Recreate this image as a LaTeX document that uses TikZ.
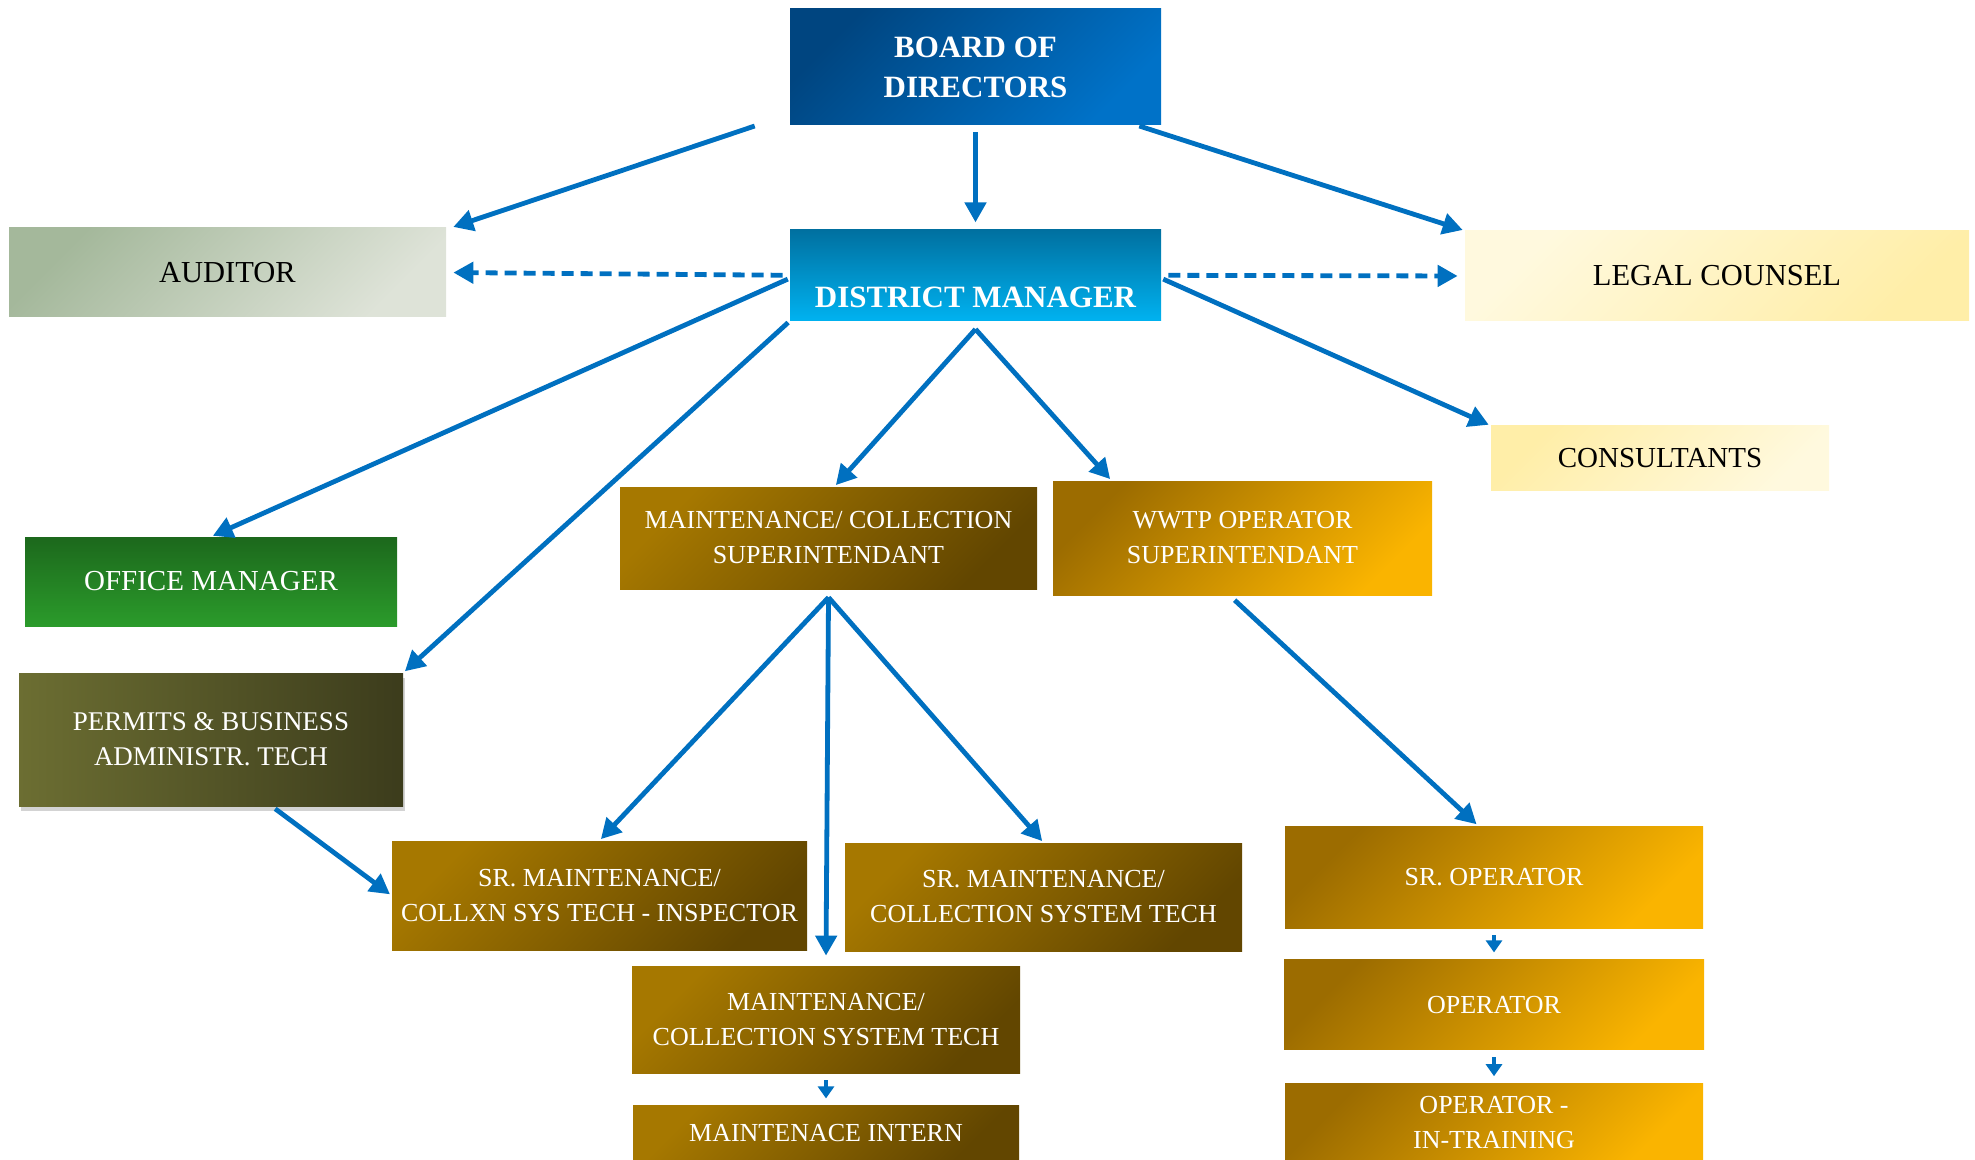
\documentclass[tikz,border=0pt]{standalone}
\usepackage{fontspec}
\setmainfont{Liberation Serif}
\usepackage{tikz}
\usetikzlibrary{arrows.meta, positioning, shadows}
\definecolor{arrowblue}{RGB}{0,112,192}
\definecolor{boarddark}{RGB}{0,69,128}
\definecolor{boardlight}{RGB}{0,114,200}
\definecolor{dmdark}{RGB}{0,112,160}
\definecolor{dmlight}{RGB}{0,178,240}
\definecolor{auditdark}{RGB}{164,184,155}
\definecolor{auditlight}{RGB}{222,227,216}
\definecolor{legallight}{RGB}{255,249,222}
\definecolor{legaldark}{RGB}{255,238,168}
\definecolor{officedark}{RGB}{28,104,28}
\definecolor{officelight}{RGB}{43,155,43}
\definecolor{permitlight}{RGB}{108,110,50}
\definecolor{permitdark}{RGB}{60,60,28}
\definecolor{maintlight}{RGB}{166,120,0}
\definecolor{maintdark}{RGB}{98,70,0}
\definecolor{opdark}{RGB}{156,108,0}
\definecolor{oplight}{RGB}{250,180,0}

\begin{document}
\begin{tikzpicture}[
        x=0.5pt, y=-0.5pt,
        box/.style={rectangle, inner sep=2pt, align=center, text=white, font=\fontsize{13}{17.5}\selectfont},
        topbox/.style={box, font=\bfseries\fontsize{15.5}{20}\selectfont},
        sidebox/.style={box, text=black, font=\fontsize{15.25}{19}\selectfont},
        maintbox/.style={box, top color=maintlight, bottom color=maintdark, shading angle=45},
        opbox/.style={box, top color=opdark, bottom color=oplight, shading angle=45},
        arrow/.style={-{Triangle[length=10pt,width=10.5pt]}, line width=2.4pt, draw=arrowblue, shorten >=1pt, shorten <=1pt},
        dasharrow/.style={arrow, dash pattern=on 6pt off 3.5pt, shorten <=3.5pt, shorten >=3.5pt},
        smallarrow/.style={-{Triangle[length=6pt,width=8pt]}, line width=1.8pt, draw=arrowblue, shorten >=3.5pt, shorten <=3.5pt}
    ]
    \useasboundingbox (0,0) rectangle (1975,1160);

    % top
    \node[topbox, top color=boarddark, bottom color=boardlight, shading angle=45, minimum width=185.5pt, minimum height=58pt] (board) at (975.5,67) {BOARD OF\\DIRECTORS};
    \node[topbox, top color=dmdark, bottom color=dmlight, minimum width=185.5pt, minimum height=45.5pt, text height=32.5pt, text depth=0pt, below=52pt of board] (dm) {DISTRICT MANAGER};

    % side boxes
    \node[sidebox, top color=auditdark, bottom color=auditlight, shading angle=45, minimum width=218.5pt, minimum height=44.5pt] (auditor) at (227.5,272.5) {AUDITOR};
    \node[sidebox, top color=legallight, bottom color=legaldark, shading angle=45, minimum width=252pt, minimum height=45pt] (legal) at (1717,276) {LEGAL COUNSEL};
    \node[sidebox, top color=legaldark, bottom color=legallight, shading angle=45, minimum width=169pt, minimum height=32pt, font=\fontsize{14.5}{18}\selectfont] (consult) at (1660,458) {CONSULTANTS};
    \node[box, top color=officedark, bottom color=officelight, minimum width=186pt, minimum height=44.5pt, font=\fontsize{14.5}{18}\selectfont] (office) at (211,581.5) {OFFICE MANAGER};
    \node[box, left color=permitlight, right color=permitdark, minimum width=192pt, minimum height=66.5pt, font=\fontsize{13.5}{17.5}\selectfont, drop shadow={opacity=0.35, shadow xshift=1pt, shadow yshift=-2.5pt}] (permits) at (211,739.5) {PERMITS \& BUSINESS\\ADMINISTR. TECH};

    % maintenance side
    \node[maintbox, minimum width=208.5pt, minimum height=51pt] (msup) at (828.5,538) {MAINTENANCE/ COLLECTION\\SUPERINTENDANT};
    \node[maintbox, minimum width=207.5pt, minimum height=54.5pt] (srinsp) at (599.5,895.5) {SR. MAINTENANCE/\\COLLXN SYS TECH - INSPECTOR};
    \node[maintbox, minimum width=198.5pt, minimum height=54pt] (srcoll) at (1043.5,897) {SR. MAINTENANCE/\\COLLECTION SYSTEM TECH};
    \node[maintbox, minimum width=194pt, minimum height=53.5pt] (mcst) at (826,1019.5) {MAINTENANCE/\\COLLECTION SYSTEM TECH};
    \node[maintbox, minimum width=193pt, minimum height=27.5pt, below=16pt of mcst] (intern) {MAINTENACE INTERN};

    % operator side
    \node[opbox, minimum width=189.5pt, minimum height=57pt] (wwtp) at (1242.5,538) {WWTP OPERATOR\\SUPERINTENDANT};
    \node[opbox, minimum width=209pt, minimum height=51pt] (srop) at (1494,877) {SR. OPERATOR};
    \node[opbox, minimum width=210pt, minimum height=45pt, below=15.5pt of srop] (op) {OPERATOR};
    \node[opbox, minimum width=209pt, minimum height=39pt, below=16.5pt of op] (opit) {OPERATOR -\\IN-TRAINING};

    % links
    \draw[arrow] ([xshift=-16.5pt]board.south west) -- ([xshift=2.5pt]auditor.north east);
    \draw[arrow, shorten <=3.5pt, shorten >=3.5pt] (board) -- (dm);
    \draw[arrow] ([xshift=-12pt]board.south east) -- (legal.north west);
    \draw[dasharrow] (dm.west) -- (auditor.east);
    \draw[dasharrow] (dm.east) -- (legal.west);
    \draw[arrow] ([yshift=-1.5pt]dm.west) -- (office.north);
    \draw[arrow] (dm.south west) -- (permits.north east);
    \draw[arrow, shorten <=0pt] ([yshift=-4pt]dm.south) -- ([xshift=3pt]msup.north);
    \draw[arrow, shorten <=0pt] ([yshift=-4pt]dm.south) -- ([xshift=-65.5pt]wwtp.north);
    \draw[arrow] ([yshift=-1.5pt]dm.east) -- (consult.north west);
    \draw[arrow, shorten <=0pt] ([yshift=-4pt]msup.south) -- (srinsp.north);
    \draw[arrow, shorten <=0pt] ([yshift=-4pt]msup.south) -- ([yshift=4pt]mcst.north);
    \draw[arrow, shorten <=0pt] ([yshift=-4pt]msup.south) -- (srcoll.north);
    \draw[arrow, shorten <=3.5pt] ([xshift=-6.5pt]wwtp.south) -- ([xshift=-8pt]srop.north);
    \draw[arrow, shorten <=2pt] ([xshift=30.5pt]permits.south) -- (srinsp.west);
    \draw[smallarrow] (mcst) -- (intern);
    \draw[smallarrow] (srop) -- (op);
    \draw[smallarrow] (op) -- (opit);

\end{tikzpicture}
\end{document}
